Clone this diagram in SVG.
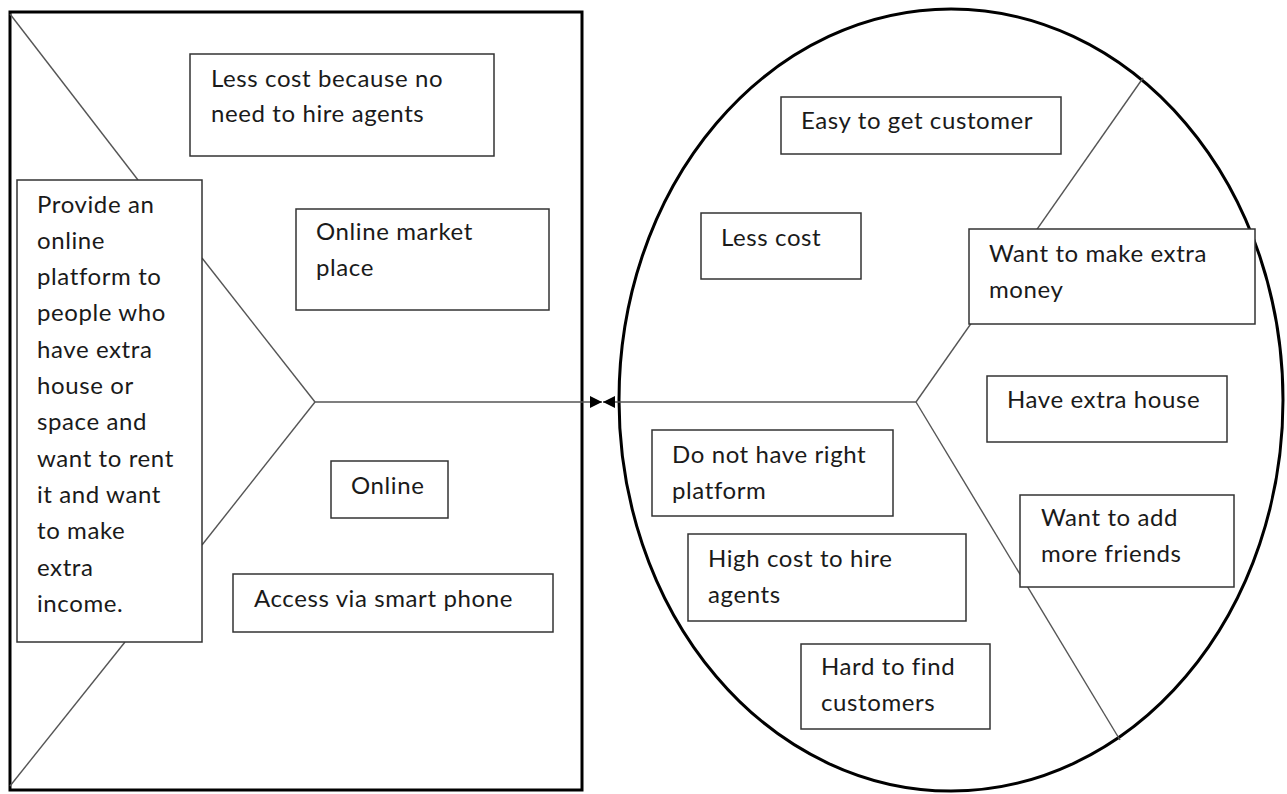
<svg xmlns="http://www.w3.org/2000/svg" width="1287" height="794" viewBox="0 0 1287 794">
  <defs>
    <style>
      .frame { fill: none; stroke: #000; stroke-width: 3; }
      .box { fill: #fff; stroke: #333; stroke-width: 1.5; }
      .bone { fill: none; stroke: #555; stroke-width: 1.4; }
      .lbl { font-family: Lato, "Liberation Sans", sans-serif; font-size: 24px; letter-spacing: 0.6px; fill: #1a1a1a; }
    </style>
    <marker id="tip" viewBox="0 0 10 10" refX="10" refY="5" markerWidth="16" markerHeight="12" markerUnits="userSpaceOnUse" orient="auto">
      <path d="M0,0 L10,5 L0,10 z" fill="#000"/>
    </marker>
  </defs>

  <rect width="1287" height="794" fill="#fff"/>

  <!-- outer frames -->
  <rect class="frame" x="10" y="12" width="572" height="778"/>
  <ellipse class="frame" cx="951" cy="400" rx="332" ry="391"/>

  <!-- fishbone lines and connectors -->
  <g id="connectors">
    <line class="bone" x1="10" y1="14" x2="138" y2="180"/>
    <line class="bone" x1="125" y1="642" x2="10" y2="786"/>
    <line class="bone" x1="202" y1="258" x2="315" y2="402"/>
    <line class="bone" x1="315" y1="402" x2="202" y2="545"/>
    <line class="bone" x1="315" y1="402" x2="602" y2="402" marker-end="url(#tip)"/>
    <line class="bone" x1="916" y1="402" x2="603" y2="402" marker-end="url(#tip)"/>
    <line class="bone" x1="916" y1="402" x2="1143" y2="78"/>
    <line class="bone" x1="916" y1="402" x2="1120" y2="740"/>
  </g>

  <g id="less-cost-agents">
    <rect class="box" x="190" y="54" width="304" height="102"/>
    <text class="lbl" x="211" y="87">Less cost because no</text>
    <text class="lbl" x="211" y="122">need to hire agents</text>
  </g>
  <g id="online-market">
    <rect class="box" x="296" y="209" width="253" height="101"/>
    <text class="lbl" x="316" y="240">Online market</text>
    <text class="lbl" x="316" y="276">place</text>
  </g>
  <g id="online">
    <rect class="box" x="331" y="461" width="117" height="57"/>
    <text class="lbl" x="351" y="494">Online</text>
  </g>
  <g id="smart-phone">
    <rect class="box" x="233" y="574" width="320" height="58"/>
    <text class="lbl" x="254" y="607">Access via smart phone</text>
  </g>
  <g id="platform">
    <rect class="box" x="17" y="180" width="185" height="462"/>
    <text class="lbl" x="37" y="213">Provide an</text>
    <text class="lbl" x="37" y="249">online</text>
    <text class="lbl" x="37" y="285">platform to</text>
    <text class="lbl" x="37" y="321">people who</text>
    <text class="lbl" x="37" y="358">have extra</text>
    <text class="lbl" x="37" y="394">house or</text>
    <text class="lbl" x="37" y="430">space and</text>
    <text class="lbl" x="37" y="467">want to rent</text>
    <text class="lbl" x="37" y="503">it and want</text>
    <text class="lbl" x="37" y="539">to make</text>
    <text class="lbl" x="37" y="576">extra</text>
    <text class="lbl" x="37" y="612">income.</text>
  </g>

  <g id="easy-customer">
    <rect class="box" x="781" y="97" width="280" height="57"/>
    <text class="lbl" x="801" y="129">Easy to get customer</text>
  </g>
  <g id="less-cost">
    <rect class="box" x="701" y="213" width="160" height="66"/>
    <text class="lbl" x="721" y="246">Less cost</text>
  </g>
  <g id="extra-money">
    <rect class="box" x="969" y="229" width="286" height="95"/>
    <text class="lbl" x="989" y="262">Want to make extra</text>
    <text class="lbl" x="989" y="298">money</text>
  </g>
  <g id="extra-house">
    <rect class="box" x="987" y="376" width="240" height="66"/>
    <text class="lbl" x="1007" y="408">Have extra house</text>
  </g>
  <g id="no-platform">
    <rect class="box" x="652" y="430" width="241" height="86"/>
    <text class="lbl" x="672" y="463">Do not have right</text>
    <text class="lbl" x="672" y="499">platform</text>
  </g>
  <g id="add-friends">
    <rect class="box" x="1020" y="495" width="214" height="92"/>
    <text class="lbl" x="1041" y="526">Want to add</text>
    <text class="lbl" x="1041" y="562">more friends</text>
  </g>
  <g id="hire-agents">
    <rect class="box" x="688" y="534" width="278" height="87"/>
    <text class="lbl" x="708" y="567">High cost to hire</text>
    <text class="lbl" x="708" y="603">agents</text>
  </g>
  <g id="find-customers">
    <rect class="box" x="801" y="644" width="189" height="85"/>
    <text class="lbl" x="821" y="675">Hard to find</text>
    <text class="lbl" x="821" y="711">customers</text>
  </g>
</svg>
